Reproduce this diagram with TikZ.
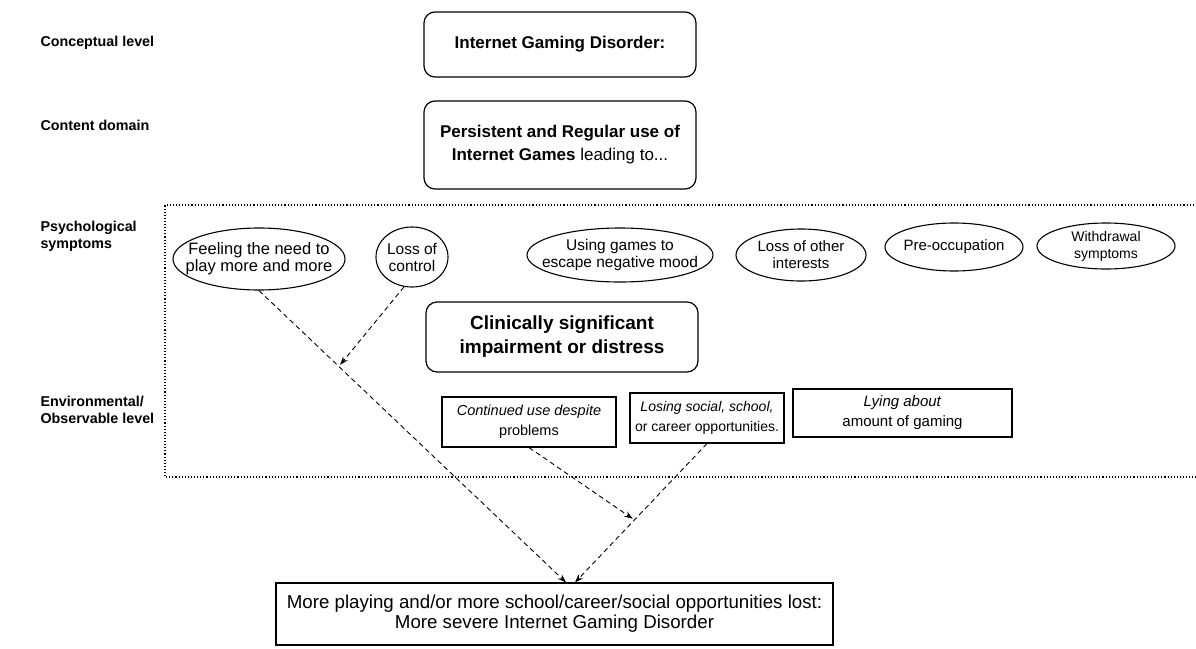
\documentclass[tikz,border=0pt]{standalone}
\usepackage{fontspec}
\setmainfont{Liberation Sans}
\usetikzlibrary{calc}
\usetikzlibrary{arrows.meta}
\usetikzlibrary{shapes.geometric}

\begin{document}
\begin{tikzpicture}[x=1pt, y=-1pt,
    lbl/.style={anchor=west, align=left, font=\fontsize{14.3}{17}\selectfont\bfseries},
    rbox/.style={rectangle, rounded corners=11pt, draw=black, line width=1.2pt, minimum width=272pt, align=center},
    ell/.style={ellipse, draw=black, line width=1.1pt, inner xsep=-14pt, inner ysep=0pt, align=center},
    sbox/.style={rectangle, draw=black, line width=1.1pt, align=center, font=\fontsize{14.5}{20}\selectfont},
    link/.style={draw=black, line width=0.9pt, dash pattern=on 5pt off 3.5pt, -{Stealth[length=8.5pt,width=6pt]}}]
    \useasboundingbox (0,0) rectangle (1196,648);
    \node[lbl] (concl) at (37,43) {Conceptual level};
    \node[lbl] (contl) at (37,125) {Content domain};
    \node[lbl] (psyl) at (37,236) {Psychological\\symptoms};
    \node[lbl] (envl) at (37,410) {Environmental/\\Observable level};
    \node[rbox, minimum height=65pt, font=\fontsize{17}{20}\selectfont\bfseries] (igd) at (560,44.5) {Internet Gaming Disorder:};
    \node[rbox, minimum height=88pt, font=\fontsize{17}{23}\selectfont] (pers) at (560,145) {\textbf{Persistent and Regular use of}\\\textbf{Internet Games} leading to...};
    \coordinate (fa) at (165,205);
    \coordinate (fb) at (165,477);
    \draw[dotted, line width=1.1pt] (fa -| 1200,0) -- (fa) -- (fb) -- (fb -| 1200,0);
    \foreach \nm/\x/\y/\w/\h/\fs/\txt in {feel/259/259/172/62/16.5/{Feeling the need to\\play more and more},
        loc/412/257/72/60/15.5/{Loss of\\control},
        using/620/255/186/54/15.5/{Using games to\\escape negative mood},
        lother/801/255/130/52/15/{Loss of other\\interests},
        preocc/954/247/138/48/15/{Pre-occupation},
        withd/1106/246/138/46/14/{Withdrawal\\symptoms}}
    {
        \node[ell, minimum width=\w pt, minimum height=\h pt, font=\fontsize{\fs}{17}\selectfont] (\nm) at (\x,\y) {\txt};
    }
    \node[rbox, minimum height=70pt, font=\fontsize{19}{24}\selectfont\bfseries] (clin) at (562,337) {Clinically significant\\impairment or distress};
    \node[sbox, minimum width=174pt, minimum height=50pt] (cont) at (529,422) {\textit{Continued use despite}\\problems};
    \node[sbox, minimum width=154pt, minimum height=50pt, font=\fontsize{14}{20}\selectfont] (lose) at (707,418) {\textit{Losing social, school,}\\or career opportunities.};
    \node[sbox, minimum width=219pt, minimum height=48pt, font=\fontsize{15}{20}\selectfont] (lying) at (902.5,413) {\textit{Lying about}\\amount of gaming};
    \node[sbox, minimum width=557pt, minimum height=62pt, font=\fontsize{18.7}{20}\selectfont] (final) at (554.5,614) {More playing and/or more school/career/social opportunities lost:\\More severe Internet Gaming Disorder};
    \coordinate (tipa) at ($(final.north)+(11.5,0)$);
    \coordinate (tipb) at ($(final.north)+(20.5,0)$);
    \coordinate (hita) at ($(feel.south)!0.26!(tipa)$);
    \coordinate (hitb) at ($(lose.south)!0.55!(tipb)$);
    \draw[link] (feel.south) -- (tipa);
    \draw[link, shorten >=2pt] (loc.255) -- (hita);
    \draw[link, shorten >=2pt] (cont.south) -- (hitb);
    \draw[link] (lose.south) -- (tipb);
\end{tikzpicture}
\end{document}
